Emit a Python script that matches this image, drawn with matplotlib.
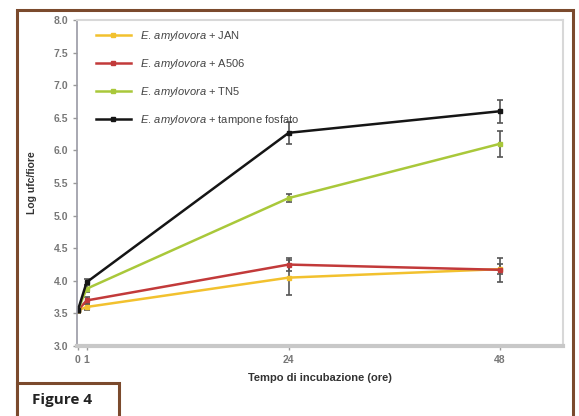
import matplotlib.pyplot as plt
from matplotlib.patches import Rectangle
from matplotlib.lines import Line2D

plt.rcParams['font.family'] = ['Liberation Sans', 'DejaVu Sans']
plt.rcParams['mathtext.fontset'] = 'custom'
plt.rcParams['mathtext.it'] = 'Liberation Sans:italic'
plt.rcParams['mathtext.rm'] = 'Liberation Sans'

# Hours of incubation and log cfu per flower for each treatment
hours = [0, 1, 24, 48]
series_names = ['JAN', 'A506', 'TN5', 'tampone fosfato']
jan = [3.55, 3.60, 4.05, 4.18]
jan_err = [0.05, 0.05, 0.27, 0.08]
a506 = [3.55, 3.70, 4.25, 4.17]
a506_err = [0.05, 0.05, 0.10, 0.18]
tn5 = [3.55, 3.88, 5.27, 6.10]
tn5_err = [0.05, 0.05, 0.06, 0.20]
tampone = [3.55, 3.98, 6.27, 6.60]
tampone_err = [0.05, 0.05, 0.17, 0.18]
y_ticks = [3.0, 3.5, 4.0, 4.5, 5.0, 5.5, 6.0, 6.5, 7.0, 7.5, 8.0]

colors = ['#f2c12e', '#c23a3a', '#a9c83a', '#151515']
data = [(jan, jan_err), (a506, a506_err), (tn5, tn5_err), (tampone, tampone_err)]

fig = plt.figure(figsize=(5.79, 4.16), dpi=100)
ax = fig.add_axes([0.133, 0.168, 0.839, 0.784])

handles = []
labels = []
for name, (vals, errs), c in zip(series_names, data, colors):
    ax.errorbar(hours, vals, yerr=errs, color=c, ecolor='#555555', elinewidth=1.2,
                capsize=2.5, capthick=1.2, marker='s', markersize=3.5, lw=1.8)
    handles.append(Line2D([], [], color=c, lw=1.8, marker='s', markersize=3.5))
    labels.append(r'$\mathit{E.}\,\mathit{amylovora}$ + ' + name)

ax.set_xlim(-0.1, 55.2)
ax.set_ylim(3.0, 8.0)
ax.set_xticks(hours)
ax.set_xticklabels(['0', '1', '24', '48'])
ax.set_yticks(y_ticks)
ax.set_yticklabels(['%.1f' % v for v in y_ticks])
ax.tick_params(colors='#999999', labelcolor='#777777', labelsize=7.5, length=3, width=1)
for lab in ax.get_xticklabels() + ax.get_yticklabels():
    lab.set_fontweight('bold')

ax.spines['bottom'].set_color('#c8c8c8')
ax.spines['bottom'].set_linewidth(3)
ax.spines['left'].set_color('#9a9aa4')
ax.spines['left'].set_linewidth(1.2)
for s in ('top', 'right'):
    ax.spines[s].set_color('#d8d8d8')
    ax.spines[s].set_linewidth(1.5)

ax.set_xlabel('Tempo di incubazione (ore)', fontsize=8, fontweight='bold', color='#333333', labelpad=6)
ax.set_ylabel('Log ufc/fiore', fontsize=7.5, fontweight='bold', color='#333333', labelpad=12)

leg = ax.legend(handles, labels, loc='upper left', frameon=False, fontsize=8, handlelength=3.2,
                labelspacing=1.25, borderaxespad=0.4, bbox_to_anchor=(0.02, 1.0))
for t in leg.get_texts():
    t.set_color('#444444')

# brown outer frame and caption box
brown = '#7b4a2d'
fig.patches.append(Rectangle((17 / 579, -0.05), (573 - 17) / 579, (406 / 416) + 0.05,
                             transform=fig.transFigure, fill=False, edgecolor=brown, lw=2.2))
fig.patches.append(Rectangle((17 / 579, -0.05), (119 - 17) / 579, (33 / 416) + 0.05,
                             transform=fig.transFigure, facecolor='white', edgecolor=brown, lw=2.2))
fig.text(32 / 579, 16 / 416, 'Figure 4', fontsize=11, fontweight='bold', color='#222222',
         va='center', ha='left', family='Open Sans')

fig.savefig('out.png', dpi=100)
